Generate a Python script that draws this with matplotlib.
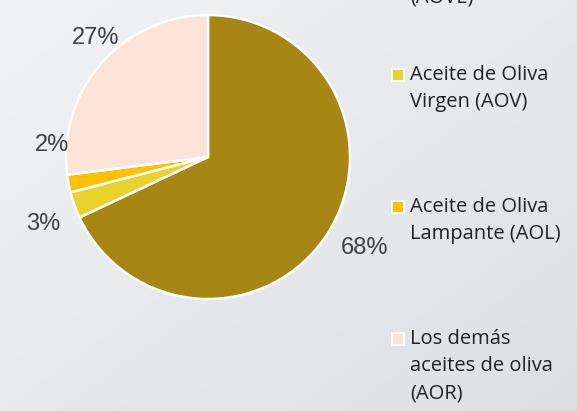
import numpy as np
import matplotlib
matplotlib.use("Agg")
import matplotlib.pyplot as plt
from matplotlib.patches import Rectangle

# Data
categories = ["Aceite de Oliva\nVirgen Extra\n(AOVE)",
              "Aceite de Oliva\nVirgen (AOV)",
              "Aceite de Oliva\nLampante (AOL)",
              "Los demás\naceites de oliva\n(AOR)"]
values = [68, 3, 2, 27]
value_labels = ["68%", "3%", "2%", "27%"]
colors = ["#A88614", "#E8D22C", "#FFC000", "#FBE3D8"]

W, H = 577, 411
fig = plt.figure(figsize=(W / 100, H / 100), dpi=100)

# Background gradient
bg = fig.add_axes([0, 0, 1, 1], zorder=0)
gx, gy = np.meshgrid(np.linspace(0, 1, 200), np.linspace(0, 1, 200))
t = (gx + gy) / 2
c0 = np.array([0xF2, 0xF3, 0xF5]) / 255
c1 = np.array([0xDE, 0xDF, 0xE3]) / 255
img = c0[None, None, :] * (1 - t[..., None]) + c1[None, None, :] * t[..., None]
bg.imshow(img, extent=[0, 1, 0, 1], aspect="auto", origin="upper")
bg.axis("off")

# Pie axes
cx, cy, r = 208, 157, 142
ax = fig.add_axes([(cx - r) / W, 1 - (cy + r) / H, 2 * r / W, 2 * r / H], zorder=1)
wedges, _ = ax.pie(values, colors=colors, startangle=90, counterclock=False,
                   wedgeprops=dict(edgecolor="white", linewidth=1.8))
ax.set_xlim(-1, 1)
ax.set_ylim(-1, 1)
ax.set_aspect("equal")
ax.axis("off")

# Percentage labels (pixel positions of label centres)
label_px = [(365, 248), (43, 224), (52, 145), (96, 38)]
for lab, (px, py) in zip(value_labels, label_px):
    fig.text(px / W, 1 - py / H, lab, ha="center", va="center",
             fontsize=17, color="#404040", family="Liberation Sans")

# Manual legend
first_line_y = [-56, 75, 207, 339]
sq = 12
for cat, col, y0 in zip(categories, colors, first_line_y):
    fig.patches.append(Rectangle(((398 - sq / 2) / W, 1 - (y0 + sq / 2) / H),
                                 sq / W, sq / H, transform=fig.transFigure,
                                 facecolor=col, edgecolor="white", linewidth=1.5,
                                 zorder=3))
    lines = cat.split("\n")
    for i, line in enumerate(lines):
        fig.text(410 / W, 1 - (y0 + 27 * i) / H, line, ha="left", va="center",
                 fontsize=14.5, color="#222222", family="Open Sans")

fig.savefig("out.png", dpi=100)
